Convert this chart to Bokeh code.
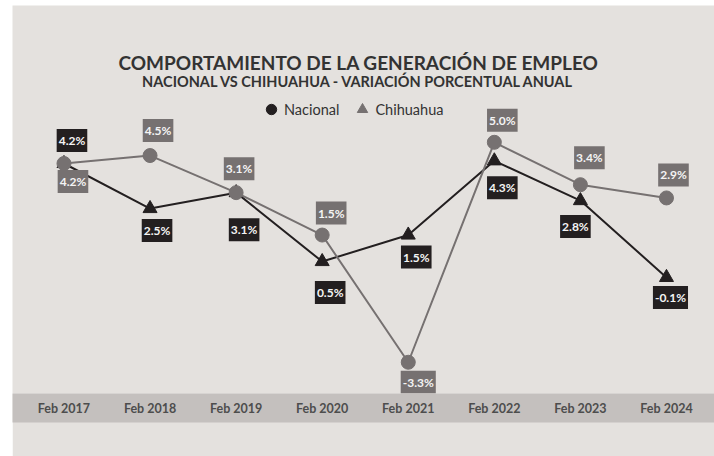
import math
from bokeh.plotting import figure
from bokeh.models import ColumnDataSource, Range1d, FixedTicker, Label, Legend, LegendItem
from bokeh.core.properties import value
from bokeh.embed import file_html
from bokeh.resources import INLINE

# ---- data ----
periods = ["Feb 2017", "Feb 2018", "Feb 2019", "Feb 2020",
           "Feb 2021", "Feb 2022", "Feb 2023", "Feb 2024"]
nacional = [4.2, 2.5, 3.1, 0.5, 1.5, 4.3, 2.8, -0.1]
chihuahua = [4.2, 4.5, 3.1, 1.5, -3.3, 5.0, 3.4, 2.9]

# label placement offsets in pixels (style, not data)
nac_dx = [8, 7, 8, 8, 8, 8, -5, 4]
nac_dy = [-23, 22, 37, 31, 22, 27, 26, 20]
chi_dx = [9, 8, 3, 9, 10, 8, 9, 7]
chi_dy = [18, -25, -24, -22, 20, -22, -27, -23]

BG = "#e4e1de"
BAND = "#c4c0be"
DARK = "#231f20"
GRAY = "#767171"
TXT = "#333333"
FONT = "Lato"

xs = list(range(len(periods)))

p = figure(width=702, height=451, output_backend="svg", toolbar_location=None,
           x_range=Range1d(-0.598, 7.558), y_range=Range1d(-4.479, 10.162),
           min_border_left=0, min_border_right=0, min_border_top=0,
           min_border_bottom=63, margin=(5, 0, 0, 12),
           background_fill_color=BG, border_fill_color=BG)
p.outline_line_color = None
p.grid.visible = False
p.yaxis.visible = False

ax = p.xaxis[0]
ax.ticker = FixedTicker(ticks=xs)
ax.major_label_overrides = {i: lab for i, lab in zip(xs, periods)}
ax.axis_line_color = None
ax.major_tick_line_color = None
ax.minor_tick_line_color = None
ax.major_tick_out = 0
ax.major_tick_in = 0
ax.major_label_standoff = 7
ax.major_label_text_font = FONT
ax.major_label_text_font_size = "12.5px"
ax.major_label_text_font_style = "bold"
ax.major_label_text_color = "#4d4d4d"
ax.axis_label = " "
ax.axis_label_standoff = 0
ax.axis_label_text_font_size = "1px"
ax.background_fill_color = BAND

src_n = ColumnDataSource(dict(x=xs, y=nacional,
                              lab=[f"{v:.1f}%" for v in nacional],
                              dx=nac_dx, dy=nac_dy))
src_c = ColumnDataSource(dict(x=xs, y=chihuahua,
                              lab=[f"{v:.1f}%" for v in chihuahua],
                              dx=chi_dx, dy=chi_dy))

p.line("x", "y", source=src_n, line_color=DARK, line_width=2)
p.scatter("x", "y", source=src_n, marker="triangle", size=14,
          fill_color=DARK, line_color=DARK)
p.line("x", "y", source=src_c, line_color=GRAY, line_width=2)
p.scatter("x", "y", source=src_c, marker="circle", size=14,
          fill_color=GRAY, line_color=GRAY)

for src, bg in ((src_n, DARK), (src_c, GRAY)):
    p.text("x", "y", text="lab", source=src, x_offset="dx", y_offset="dy",
           text_align="center", text_baseline="middle",
           text_font=value(FONT), text_font_style="bold", text_font_size="12px",
           text_color="#f4f4f4", background_fill_color=bg, padding=(2, 4))

# legend (markers as in the original legend)
leg_n = p.scatter(x=[math.nan], y=[math.nan], marker="circle",
                  fill_color=DARK, line_color=DARK)
leg_c = p.scatter(x=[math.nan], y=[math.nan], marker="triangle",
                  fill_color=GRAY, line_color=GRAY)
legend = Legend(items=[LegendItem(label="Nacional", renderers=[leg_n]),
                       LegendItem(label="Chihuahua", renderers=[leg_c])],
                orientation="horizontal", location=(246, 271),
                glyph_width=26, glyph_height=26, label_standoff=-3, spacing=10,
                padding=0, margin=0, border_line_color=None,
                background_fill_alpha=0, label_text_font=FONT,
                label_text_font_size="14.5px", label_text_color="#333333")
p.add_layout(legend, "center")

p.add_layout(Label(x=346, y=331, x_units="screen", y_units="screen",
                   text="COMPORTAMIENTO DE LA GENERACIÓN DE EMPLEO",
                   text_align="center", text_baseline="alphabetic",
                   text_font=FONT, text_font_style="bold",
                   text_font_size="19px", text_color=TXT))
p.add_layout(Label(x=346, y=312, x_units="screen", y_units="screen",
                   text="NACIONAL VS CHIHUAHUA - VARIACIÓN PORCENTUAL ANUAL",
                   text_align="center", text_baseline="alphabetic",
                   text_font=FONT, text_font_style="bold",
                   text_font_size="14.5px", text_color=TXT))

open("out.html", "w").write(file_html(p, INLINE))
